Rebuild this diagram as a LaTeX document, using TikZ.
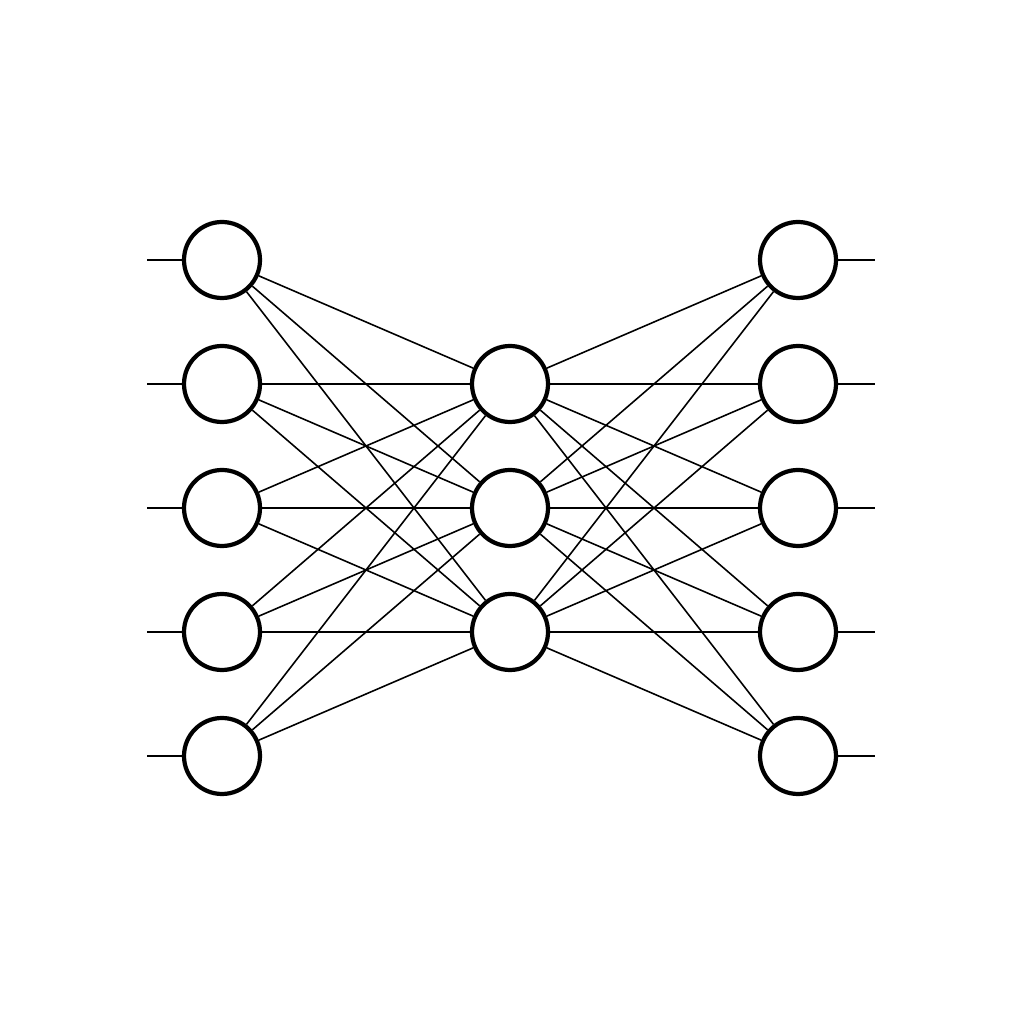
\documentclass[tikz,border=0pt]{standalone}
\begin{document}
\begin{tikzpicture}
\tikzset{neuron/.style={circle,draw=black,line width=1.2pt,fill=white,minimum size=0.76cm,inner sep=0pt},
 conn/.style={line width=0.45pt,black}}
\useasboundingbox (0,0) rectangle (10.24,10.24);
\foreach \i/\y in {1/7.64,2/6.40,3/5.16,4/3.92,5/2.68}{
  \node[neuron] (in\i) at (2.22,\y) {};
  \node[neuron] (out\i) at (7.98,\y) {};
  \coordinate (l\i) at (1.47,\y);
  \coordinate (r\i) at (8.75,\y);
}
\foreach \j/\y in {1/6.40,2/5.16,3/3.92}{
  \node[neuron] (h\j) at (5.10,\y) {};
}
\foreach \i in {1,...,5}{
  \draw[conn] (l\i) -- (in\i);
  \draw[conn] (out\i) -- (r\i);
  \foreach \j in {1,2,3}{
    \draw[conn] (in\i) -- (h\j);
    \draw[conn] (h\j) -- (out\i);
  }
}
\end{tikzpicture}
\end{document}
